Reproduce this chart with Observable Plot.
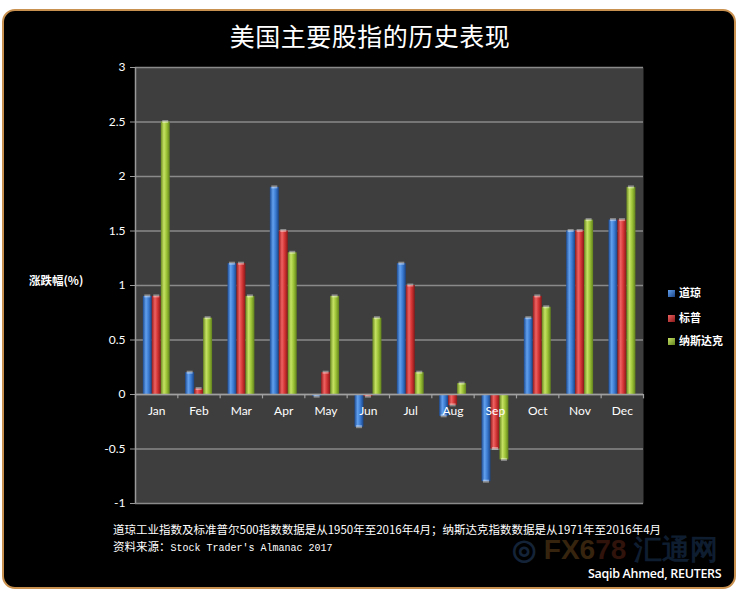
<!DOCTYPE html>
<html>
<head>
<meta charset="utf-8">
<script src="https://cdn.jsdelivr.net/npm/d3@7"></script>
<script src="https://cdn.jsdelivr.net/npm/@observablehq/plot@0.6"></script>
<style>
  html, body { margin: 0; padding: 0; background: #fff; }
  #page { position: relative; width: 740px; height: 600px; overflow: hidden; background: #fff; }
  #card { position: absolute; left: 2px; top: 9px; width: 730px; height: 576px; background: #000;
          border: 2.5px solid #c9914f; border-radius: 13px; }
  .abs { position: absolute; white-space: nowrap; color: #fff; }
  #title { left: 0; width: 740px; top: 17px; text-align: center; font-family: "Noto Sans CJK SC"; font-size: 25px; font-weight: 400; letter-spacing: 0.5px; }
  #ylab { left: 29px; top: 272px; font-family: "Noto Sans CJK SC"; font-size: 11.5px; font-weight: 700; }
  .leg { left: 668px; font-family: "Noto Sans CJK SC"; font-size: 11px; font-weight: 700; }
  .sw { position: absolute; left: 668px; width: 7px; height: 7px; }
  #note1 { left: 113px; top: 521px; font-family: "Noto Sans CJK SC"; font-size: 11.5px; letter-spacing: 0; }
  #note2 { left: 113px; top: 538px; font-family: "Noto Sans CJK SC"; font-size: 11.5px; }
  #note2 span { font-family: "Liberation Mono"; font-size: 10px; letter-spacing: 0; }
  #credit { left: 588px; top: 566px; line-height: 16px; font-family: "Open Sans"; font-size: 12.5px; font-weight: 600; letter-spacing: -0.3px; }
  #wm { left: 512px; top: 537px; line-height: 26px; height: 26px; font-family: "Liberation Sans"; font-size: 28px; font-weight: 700; opacity: 0.45; }
  #chart { position: absolute; left: 0; top: 55px; }
</style>
</head>
<body>
<div id="page">
  <div id="card"></div>
  <div class="abs" id="wm"><span style="color:#2d4f7a">◎</span> <span style="color:#7a5020">FX6</span><span style="color:#6a2a1a">78</span> <span style="color:#22406a">汇通网</span></div>
  <div class="abs" id="title">美国主要股指的历史表现</div>
  <div id="chart"></div>
  <div class="abs" id="ylab">涨跌幅(%)</div>
  <div id="legend"></div>
  <div class="abs" id="note1">道琼工业指数及标准普尔500指数数据是从1950年至2016年4月；纳斯达克指数数据是从1971年至2016年4月</div>
  <div class="abs" id="note2">资料来源：<span>Stock Trader's Almanac 2017</span></div>
  <div class="abs" id="credit">Saqib Ahmed, REUTERS</div>
</div>
<script>
// ---- data ----
const months = ["Jan","Feb","Mar","Apr","May","Jun","Jul","Aug","Sep","Oct","Nov","Dec"];
const seriesNames = ["道琼","标普","纳斯达克"];
const dow    = [0.9, 0.2, 1.2, 1.9, -0.02, -0.3, 1.2, -0.2, -0.8, 0.7, 1.5, 1.6];
const sp500  = [0.9, 0.05, 1.2, 1.5, 0.2, -0.02, 1.0, -0.1, -0.5, 0.9, 1.5, 1.6];
const nasdaq = [2.5, 0.7, 0.9, 1.3, 0.9, 0.7, 0.2, 0.1, -0.6, 0.8, 1.6, 1.9];
const yTicks = [-1, -0.5, 0, 0.5, 1, 1.5, 2, 2.5, 3];

const seriesValues = [dow, sp500, nasdaq];
const gradIds = ["gBlue", "gRed", "gGreen"];

// table built from the arrays
const table = [];
months.forEach((m, i) => {
  seriesValues.forEach((vals, s) => {
    table.push({month: m, mi: i, series: seriesNames[s], si: s, value: vals[i]});
  });
});

const groupStart = 0.185, barW = 0.212;

const W = 740, H = 470;
const chart = Plot.plot({
  width: W, height: H,
  marginLeft: 135, marginRight: 97, marginTop: 12, marginBottom: 22,
  style: {background: "transparent", color: "#fff", fontFamily: "Lato", fontSize: "12px", overflow: "visible"},
  x: {domain: [0, 12], axis: null},
  y: {domain: [-1, 3], axis: null},
  color: {type: "identity"},
  marks: [
    Plot.frame({fill: "#3e3e3e", stroke: null}),
    Plot.ruleY(yTicks, {stroke: "#8a8a8a", strokeWidth: 1.5}),
    Plot.ruleX([0], {y1: -1, y2: 3, stroke: "#9a9a9a", strokeWidth: 1.5}),
    Plot.axisY({ticks: yTicks, tickFormat: d => String(d), tickSize: 5, tickPadding: 5,
                stroke: "#9a9a9a", fill: "#fff", fontSize: 12, label: null}),
    Plot.rect(table, {
      x1: d => d.mi + groupStart + d.si * barW,
      x2: d => d.mi + groupStart + (d.si + 1) * barW,
      y1: 0, y2: "value",
      fill: d => `url(#${gradIds[d.si]})`
    }),
    // light top caps
    Plot.rect(table, {
      x1: d => d.mi + groupStart + d.si * barW,
      x2: d => d.mi + groupStart + (d.si + 1) * barW,
      y1: "value", y2: "value",
      insetTop: -1.5, insetBottom: -1.5, insetLeft: 1.5, insetRight: 1.5,
      fill: "#ffffff", fillOpacity: 0.4
    }),
    Plot.ruleY([0], {stroke: "#a0a0a0", strokeWidth: 1.5}),
    Plot.ruleX(d3.range(0, 13), {y1: 0, y2: -0.04, stroke: "#a0a0a0", strokeWidth: 1.2}),
    Plot.text(months, {x: (d, i) => i + 0.5, y: 0, dy: 17, text: d => d, fill: "#fff",
                       fontSize: 12, fontFamily: "Lato"})
  ]
});
document.getElementById("chart").appendChild(chart);

// gradient defs for the cylinder-like bars
const svg = d3.select(chart);
const defs = svg.insert("defs", ":first-child");
const gradStops = [
  ["#1d4c94", "#62a0ee", "#3a7ad0", "#1a4486"],
  ["#981c1c", "#ee6262", "#d33434", "#881818"],
  ["#6a8a20", "#c6e264", "#9bc236", "#60801c"]
];
gradIds.forEach((id, k) => {
  const g = defs.append("linearGradient").attr("id", id).attr("x1", 0).attr("x2", 1).attr("y1", 0).attr("y2", 0);
  const st = gradStops[k];
  g.append("stop").attr("offset", "0%").attr("stop-color", st[0]);
  g.append("stop").attr("offset", "35%").attr("stop-color", st[1]);
  g.append("stop").attr("offset", "65%").attr("stop-color", st[2]);
  g.append("stop").attr("offset", "100%").attr("stop-color", st[3]);
});

// legend
const legend = document.getElementById("legend");
const legY = [[284, 290], [309, 315], [332, 338]];
seriesNames.forEach((name, k) => {
  const sw = document.createElement("div");
  sw.className = "sw";
  sw.style.top = legY[k][1] + "px";
  sw.style.background = `linear-gradient(135deg, ${gradStops[k][1]}, ${gradStops[k][3]})`;
  legend.appendChild(sw);
  const t = document.createElement("div");
  t.className = "abs leg";
  t.style.left = "679px";
  t.style.top = legY[k][0] + "px";
  t.textContent = name;
  legend.appendChild(t);
});
</script>
</body>
</html>
